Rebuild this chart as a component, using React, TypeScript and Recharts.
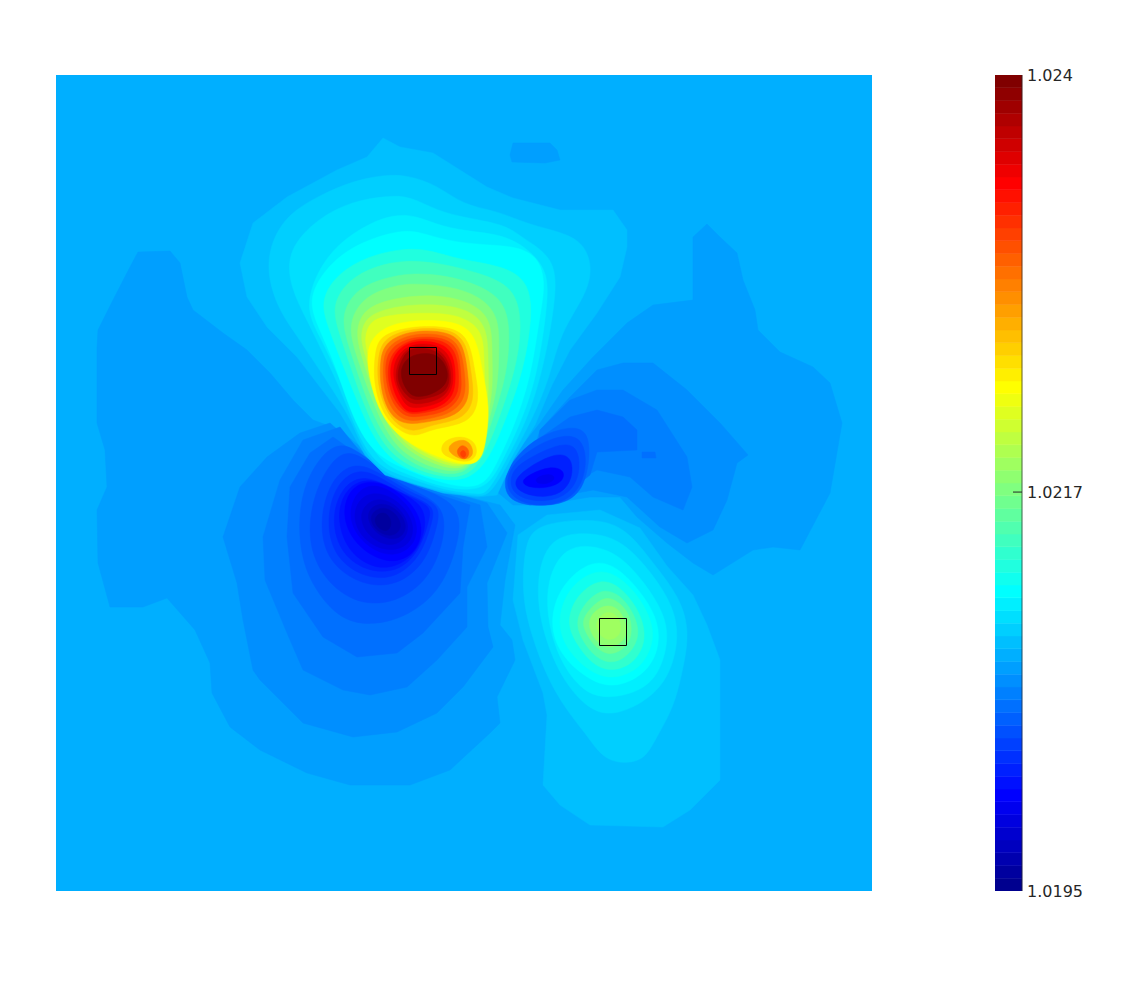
import React from "react";
import { BarChart, Bar, ScatterChart, Scatter, XAxis, YAxis } from "recharts";

type Pt = number[];
type Band = [number, Pt[]];

// jet colormap of the colorbar, bottom to top
const jet = [
  "#00008F", "#00009F", "#0000AF", "#0000BF", "#0000CF", "#0000DF", "#0000EF", "#0000FF",
  "#0010FF", "#0020FF", "#0030FF", "#0040FF", "#0050FF", "#0060FF", "#0070FF", "#0080FF",
  "#008FFF", "#009FFF", "#00AFFF", "#00BFFF", "#00CFFF", "#00DFFF", "#00EFFF", "#00FFFF",
  "#10FFEF", "#20FFDF", "#30FFCF", "#40FFBF", "#50FFAF", "#60FF9F", "#70FF8F", "#80FF80",
  "#8FFF70", "#9FFF60", "#AFFF50", "#BFFF40", "#CFFF30", "#DFFF20", "#EFFF10", "#FFFF00",
  "#FFEF00", "#FFDF00", "#FFCF00", "#FFBF00", "#FFAF00", "#FF9F00", "#FF8F00", "#FF8000",
  "#FF7000", "#FF6000", "#FF5000", "#FF4000", "#FF3000", "#FF2000", "#FF1000", "#FF0000",
  "#EF0000", "#DF0000", "#CF0000", "#BF0000", "#AF0000", "#9F0000", "#8F0000", "#800000",
];

const colorTicks = [1.0195, 1.0217, 1.024];
const colorMin = 1.0195;
const colorMax = 1.024;

// contour outlines, in grid units of the field
const field: Pt[] = [[56, 75], [872, 75], [872, 891], [56, 891]];

const lowLeft18: Pt[] = [[138, 252], [170, 251], [180, 263], [187, 297], [193, 310], [223, 333], [247, 350], [270, 373], [293, 400], [313, 420], [340, 430], [400, 480], [500, 505], [515, 525], [505, 580], [500, 625], [512, 640], [515, 660], [497, 697], [500, 723], [490, 733], [450, 770], [410, 785], [350, 785], [307, 773], [260, 750], [230, 727], [212, 693], [210, 663], [195, 630], [167, 598], [143, 607], [110, 607], [98, 563], [97, 510], [107, 487], [105, 450], [97, 423], [97, 347], [98, 330], [113, 300], [130, 267]];
const lowRight18: Pt[] = [[693, 237], [707, 224], [720, 237], [737, 253], [743, 280], [755, 310], [758, 330], [780, 352], [813, 367], [830, 383], [842, 423], [830, 493], [800, 550], [773, 547], [753, 550], [713, 575], [693, 563], [667, 543], [637, 517], [620, 497], [590, 497], [540, 505], [513, 505], [495, 490], [513, 457], [540, 423], [563, 390], [593, 357], [627, 323], [653, 305], [693, 300]];
const lowTop18: Pt[] = [[513, 143], [550, 143], [557, 150], [560, 160], [545, 163], [512, 162], [510, 155]];

const lowLeft17: Pt[] = [[223, 537], [240, 487], [267, 457], [300, 433], [330, 423], [360, 450], [410, 480], [487, 503], [507, 533], [487, 583], [488, 627], [493, 647], [463, 687], [437, 713], [397, 732], [353, 737], [303, 723], [260, 680], [253, 670], [243, 620], [237, 583]];
const lowLeft16: Pt[] = [[263, 537], [280, 480], [303, 440], [340, 427], [365, 458], [410, 483], [480, 505], [487, 547], [467, 587], [467, 627], [437, 660], [407, 687], [370, 695], [343, 690], [303, 670], [287, 633], [265, 580]];
const lowLeft15: Pt[] = [[287, 537], [290, 487], [310, 453], [333, 437], [370, 463], [410, 485], [470, 505], [463, 547], [460, 593], [423, 633], [397, 653], [357, 657], [323, 637], [293, 593]];
const lowLeft14: Pt[] = [[298, 537], [301, 493], [318, 458], [343, 438], [375, 466], [410, 486], [465, 503], [456, 553], [439, 592], [408, 616], [373, 626], [338, 620], [307, 579]];
const lowLeft13: Pt[] = [[307, 537], [314, 493], [331, 461], [350, 448], [380, 470], [410, 490], [447, 505], [443, 547], [426, 583], [391, 605], [352, 603], [320, 575]];
const lowLeft12: Pt[] = [[319, 522], [330, 480], [355, 460], [385, 476], [410, 493], [442, 504], [436, 530], [426, 562], [398, 586], [362, 586], [327, 562]];
const lowLeft11: Pt[] = [[326, 520], [336, 483], [360, 467], [385, 480], [410, 496], [436, 506], [431, 525], [422, 554], [398, 578], [366, 579], [334, 558]];
const lowLeft10: Pt[] = [[331, 520], [341, 487], [365, 473], [400, 493], [432, 505], [429, 520], [421, 548], [401, 571], [370, 573], [341, 555]];
const lowLeft9: Pt[] = [[336, 516], [346, 487], [370, 477], [395, 490], [422, 503], [427, 525], [417, 553], [395, 568], [372, 568], [347, 551]];
const lowLeft8: Pt[] = [[341, 514], [351, 485], [377, 479], [410, 499], [425, 527], [415, 556], [387, 565], [354, 545]];
const lowLeft7: Pt[] = [[347, 514], [358, 488], [380, 483], [408, 503], [420, 528], [411, 550], [387, 558], [359, 541]];
const lowLeft6: Pt[] = [[351, 513], [365, 491], [393, 495], [415, 520], [412, 545], [387, 553], [361, 539]];
const lowLeft5: Pt[] = [[358, 513], [373, 497], [395, 502], [411, 524], [404, 542], [387, 547], [366, 535]];
const lowLeft4: Pt[] = [[364, 513], [380, 501], [398, 509], [409, 527], [398, 542], [375, 535]];
const lowLeft3: Pt[] = [[368, 515], [383, 505], [397, 514], [403, 528], [392, 538], [375, 531]];
const lowLeft2: Pt[] = [[373, 517], [385, 510], [393, 522], [388, 533], [377, 528]];

const lowRight17: Pt[] = [[623, 363], [653, 363], [687, 390], [720, 423], [748, 455], [737, 463], [727, 500], [713, 530], [687, 543], [660, 527], [627, 497], [593, 490], [540, 500], [520, 495], [540, 430], [570, 397], [597, 370]];
const lowRight16: Pt[] = [[597, 390], [623, 390], [657, 410], [687, 457], [692, 487], [683, 510], [653, 497], [630, 477], [597, 470], [560, 490], [530, 495], [540, 430], [570, 400]];
const lowRight15: Pt[] = [[570, 417], [597, 410], [623, 417], [637, 430], [637, 450], [597, 452], [590, 475], [565, 495], [530, 505], [510, 495], [530, 445]];
const lowSpot15: Pt[] = [[642, 452], [655, 452], [656, 458], [642, 458]];
const lowRight14: Pt[] = [[533, 440], [560, 428], [592, 426], [588, 480], [572, 502], [540, 507], [508, 502], [503, 480], [513, 460]];
const lowRight13: Pt[] = [[525, 453], [550, 438], [580, 433], [588, 460], [580, 492], [555, 506], [525, 505], [506, 492], [508, 470]];
const lowRight12: Pt[] = [[525, 460], [555, 445], [577, 443], [581, 470], [572, 492], [550, 502], [525, 500], [510, 490], [511, 472]];
const lowRight10: Pt[] = [[530, 466], [555, 453], [572, 456], [573, 478], [562, 494], [540, 498], [518, 492], [513, 480]];
const lowRight8: Pt[] = [[530, 474], [550, 466], [565, 470], [563, 482], [548, 488], [530, 488], [520, 482]];
const lowRight7: Pt[] = [[535, 477], [552, 473], [556, 479], [548, 484], [536, 484]];

const upper20: Pt[] = [[383, 138], [400, 147], [433, 153], [460, 170], [487, 187], [513, 198], [560, 210], [613, 210], [627, 230], [627, 247], [620, 277], [597, 313], [570, 350], [552, 385], [535, 425], [513, 460], [497, 495], [477, 497], [443, 493], [410, 483], [385, 475], [365, 455], [340, 413], [320, 387], [297, 357], [267, 327], [247, 297], [240, 263], [253, 223], [287, 197], [337, 170], [367, 157]];
const upper21: Pt[] = [[383, 175], [407, 175], [437, 185], [463, 205], [497, 211], [520, 221], [543, 228], [582, 238], [593, 267], [586, 295], [560, 333], [550, 377], [532, 420], [510, 460], [490, 496], [477, 496], [443, 492], [410, 482], [383, 473], [362, 449], [353, 423], [333, 390], [313, 360], [293, 330], [277, 307], [264, 263], [281, 218], [320, 195], [353, 181]];
const upper22: Pt[] = [[387, 196], [410, 196], [437, 211], [467, 218], [507, 225], [522, 238], [556, 258], [556, 300], [542, 375], [525, 425], [505, 462], [487, 494], [477, 494], [443, 490], [410, 478], [380, 468], [360, 441], [340, 387], [323, 353], [307, 320], [290, 287], [287, 250], [318, 218], [353, 201]];
const upper23: Pt[] = [[393, 215], [415, 215], [442, 227], [475, 232], [512, 236], [548, 266], [548, 302], [537, 377], [520, 425], [500, 465], [485, 492], [443, 488], [410, 475], [378, 463], [356, 415], [338, 375], [322, 340], [305, 310], [316, 273], [338, 243], [370, 223]];
const upper24: Pt[] = [[400, 230], [420, 232], [447, 241], [483, 245], [515, 246], [538, 256], [546, 283], [539, 320], [531, 377], [514, 427], [496, 465], [482, 490], [443, 484], [410, 471], [375, 456], [353, 420], [335, 363], [318, 327], [307, 297], [331, 261], [363, 241]];
const upper26: Pt[] = [[405, 248], [430, 250], [460, 260], [505, 266], [530, 283], [532, 320], [523, 372], [507, 416], [491, 456], [471, 480], [440, 481], [398, 467], [374, 440], [358, 403], [342, 363], [328, 327], [320, 300], [338, 273], [368, 256]];
const upper28: Pt[] = [[405, 260], [440, 263], [480, 273], [517, 288], [522, 330], [515, 371], [501, 413], [486, 453], [469, 477], [440, 478], [400, 463], [378, 437], [362, 400], [350, 365], [338, 330], [332, 305], [348, 280], [375, 266]];
const upper30: Pt[] = [[410, 273], [445, 275], [480, 285], [507, 303], [510, 340], [506, 376], [495, 413], [482, 449], [467, 474], [440, 475], [402, 459], [381, 432], [366, 398], [354, 362], [344, 332], [343, 310], [358, 288], [385, 278]];
const upper32: Pt[] = [[410, 283], [450, 286], [480, 296], [499, 316], [499, 350], [498, 386], [489, 421], [479, 451], [466, 472], [440, 471], [403, 455], [384, 428], [370, 395], [358, 360], [350, 335], [352, 315], [366, 296], [390, 287]];
const upper34: Pt[] = [[412, 295], [450, 296], [478, 306], [492, 323], [492, 358], [493, 391], [486, 426], [477, 453], [464, 470], [440, 467], [405, 450], [387, 425], [373, 392], [362, 358], [356, 335], [360, 316], [375, 303]];
const upper36: Pt[] = [[412, 304], [450, 305], [475, 313], [488, 331], [488, 365], [489, 396], [483, 431], [476, 456], [463, 468], [440, 464], [405, 446], [388, 420], [376, 392], [366, 358], [360, 338], [364, 320], [380, 310]];
const upper38: Pt[] = [[410, 313], [452, 313], [474, 323], [484, 338], [484, 370], [486, 400], [481, 436], [475, 459], [463, 466], [440, 461], [404, 442], [387, 417], [377, 390], [368, 355], [364, 338], [370, 321], [385, 316]];
const upper40: Pt[] = [[405, 320], [455, 320], [476, 334], [482, 370], [490, 407], [486, 443], [479, 469], [440, 459], [400, 439], [381, 415], [371, 387], [365, 350], [378, 330]];
const hot42: Pt[] = [[375, 350], [381, 335], [410, 326], [453, 326], [470, 340], [475, 373], [480, 400], [470, 424], [433, 428], [415, 438], [398, 430], [383, 415], [373, 383]];
const hot44: Pt[] = [[378, 355], [384, 338], [410, 328], [451, 328], [467, 343], [471, 373], [475, 400], [463, 420], [433, 424], [413, 433], [397, 425], [385, 410], [377, 383]];
const hot48: Pt[] = [[380, 360], [385, 342], [410, 330], [450, 331], [464, 345], [468, 375], [470, 400], [456, 416], [433, 421], [410, 425], [395, 420], [385, 405], [380, 383]];
const hot50: Pt[] = [[383, 360], [388, 345], [411, 333], [447, 334], [461, 347], [465, 375], [466, 398], [452, 413], [433, 418], [411, 422], [398, 417], [388, 403], [383, 383]];
const hot52: Pt[] = [[385, 362], [391, 347], [412, 336], [445, 337], [459, 349], [461, 376], [462, 396], [448, 411], [430, 415], [411, 418], [400, 413], [391, 400], [386, 382]];
const hot54: Pt[] = [[388, 364], [394, 350], [412, 338], [443, 339], [457, 352], [459, 378], [458, 396], [445, 408], [428, 412], [411, 415], [402, 410], [393, 398], [388, 381]];
const hot56: Pt[] = [[390, 366], [396, 351], [412, 340], [441, 342], [454, 354], [456, 380], [453, 396], [442, 406], [425, 411], [410, 413], [403, 408], [395, 395], [391, 381]];
const hot58: Pt[] = [[393, 368], [398, 354], [412, 343], [439, 344], [452, 358], [454, 382], [449, 396], [438, 404], [420, 408], [408, 408], [401, 398], [394, 382]];
const hot60: Pt[] = [[395, 372], [401, 355], [412, 345], [438, 347], [450, 362], [452, 384], [445, 396], [432, 402], [415, 405], [405, 400], [397, 386]];
const hot62: Pt[] = [[397, 372], [403, 356], [412, 347], [437, 349], [449, 365], [450, 385], [442, 394], [428, 398], [414, 401], [406, 395], [399, 385]];
const hot64: Pt[] = [[399, 374], [406, 355], [436, 351], [448, 368], [448, 384], [432, 395], [414, 398], [406, 390]];
const side42: Pt[] = [[440, 453], [443, 440], [463, 435], [477, 443], [477, 458], [465, 463], [450, 458]];
const side46: Pt[] = [[447, 452], [450, 443], [465, 438], [473, 447], [473, 457], [463, 461]];
const side50: Pt[] = [[455, 452], [462, 443], [470, 450], [468, 458], [462, 460]];
const side52: Pt[] = [[459, 453], [464, 449], [467, 455], [463, 459]];

const peak20: Pt[] = [[547, 515], [600, 510], [640, 528], [667, 566], [693, 595], [707, 625], [720, 660], [720, 780], [690, 810], [663, 827], [590, 825], [560, 805], [543, 785], [547, 715], [543, 693], [523, 640], [513, 600], [518, 535]];
const peak21: Pt[] = [[540, 523], [597, 518], [627, 529], [653, 563], [680, 597], [690, 633], [682, 673], [674, 707], [655, 740], [645, 759], [625, 764], [603, 759], [587, 735], [570, 715], [547, 679], [528, 625], [522, 590], [525, 540]];
const peak22: Pt[] = [[548, 535], [593, 532], [623, 541], [652, 573], [674, 607], [679, 640], [669, 677], [649, 699], [620, 714], [593, 714], [563, 682], [543, 635], [535, 585]];
const peak23: Pt[] = [[565, 547], [593, 545], [620, 555], [645, 583], [664, 613], [669, 640], [659, 675], [639, 692], [607, 699], [583, 692], [560, 662], [547, 620], [547, 578]];
const peak24: Pt[] = [[593, 558], [620, 568], [645, 597], [659, 623], [659, 650], [645, 675], [613, 689], [587, 679], [560, 655], [549, 623], [560, 585]];
const peak25: Pt[] = [[597, 568], [620, 576], [642, 600], [654, 627], [652, 648], [639, 670], [612, 680], [590, 672], [568, 652], [556, 623], [568, 587]];
const peak27: Pt[] = [[600, 578], [620, 586], [637, 607], [645, 628], [644, 647], [632, 665], [610, 672], [592, 664], [577, 645], [566, 623], [576, 595]];
const peak29: Pt[] = [[603, 588], [620, 595], [632, 610], [639, 628], [637, 643], [625, 659], [608, 664], [593, 655], [582, 640], [575, 622], [585, 602]];
const peak31: Pt[] = [[605, 596], [618, 601], [629, 613], [632, 628], [630, 642], [620, 652], [607, 655], [595, 647], [587, 635], [581, 622], [590, 608]];
const peak33: Pt[] = [[607, 604], [620, 609], [628, 627], [625, 641], [608, 650], [594, 640], [587, 623], [594, 611]];
const peak34: Pt[] = [[606, 610], [618, 615], [622, 628], [618, 638], [606, 641], [597, 632], [595, 622]];

// painting order, colormap position (1-64) then outline
const angularBands: Band[] = [
  [19, field], [18, lowLeft18], [18, lowRight18], [18, lowTop18],
  [17, lowLeft17], [17, lowRight17], [16, lowLeft16], [16, lowRight16],
  [15, lowLeft15], [15, lowRight15], [15, lowSpot15],
];
const roundBands: Band[] = [
  [14, lowLeft14], [13, lowLeft13], [12, lowLeft12], [11, lowLeft11], [10, lowLeft10], [9, lowLeft9],
  [8, lowLeft8], [7, lowLeft7], [6, lowLeft6], [5, lowLeft5], [4, lowLeft4], [3, lowLeft3], [2, lowLeft2],
  [14, lowRight14], [13, lowRight13], [12, lowRight12], [10, lowRight10], [8, lowRight8], [7, lowRight7],
];
const warmBands: Band[] = [[20, upper20], [20, peak20]];
const hotBands: Band[] = [
  [21, upper21], [22, upper22], [23, upper23], [24, upper24],
  [26, upper26], [28, upper28], [30, upper30], [32, upper32], [34, upper34], [36, upper36], [38, upper38], [40, upper40],
  [42, hot42], [44, hot44], [48, hot48], [50, hot50], [52, hot52], [54, hot54], [56, hot56], [58, hot58], [60, hot60], [62, hot62], [64, hot64],
  [42, side42], [46, side46], [50, side50], [52, side52],
  [21, peak21], [22, peak22], [23, peak23], [24, peak24], [25, peak25], [27, peak27], [29, peak29], [31, peak31], [33, peak33], [34, peak34],
];

const markerA: Pt[] = [[409.5, 347.5], [436.5, 347.5], [436.5, 374.5], [409.5, 374.5]];
const markerB: Pt[] = [[599.5, 618.5], [626.5, 618.5], [626.5, 645.5], [599.5, 645.5]];

const noDot = () => <g />;

function bandSeries(bands: Band[], joint: "linearClosed" | "basisClosed", prefix: string) {
  return bands.map(([level, pts], i) => (
    <Scatter
      key={prefix + i}
      data={pts.map(([x, y]) => ({ x, y }))}
      line={{ fill: jet[level - 1], stroke: jet[level - 1], strokeWidth: 0.5 }}
      lineType="joint"
      lineJointType={joint}
      shape={noDot}
      legendType="none"
      isAnimationActive={false}
    />
  ));
}

function ColorTick({ x, y, payload }: any) {
  const inner = payload.value > colorMin && payload.value < colorMax;
  return (
    <g>
      {inner && <line x1={x - 9} x2={x} y1={y} y2={y} stroke="#262626" strokeWidth={1} />}
      <text x={x + 5} y={y} dy="0.36em" fontSize={16} fill="#262626" fontFamily="DejaVu Sans">
        {payload.value}
      </text>
    </g>
  );
}

// one row for the colorbar stack: base first, then one slice per colormap entry
const sliceHeight = (colorMax - colorMin) / jet.length;
const colorRow: Record<string, number | string> = { name: "c", base: colorMin };
jet.forEach((_, i) => {
  colorRow["c" + i] = sliceHeight;
});

export default function App() {
  return (
    <div style={{ position: "absolute", left: 0, top: 0, width: 1143, height: 1001, background: "#fff" }}>
      <div style={{ position: "absolute", left: 56, top: 75 }}>
        <ScatterChart width={816} height={816} margin={{ top: 0, right: 0, bottom: 0, left: 0 }}>
          <XAxis type="number" dataKey="x" domain={[56, 872]} hide allowDataOverflow />
          <YAxis type="number" dataKey="y" domain={[75, 891]} reversed hide allowDataOverflow />
          {bandSeries(angularBands, "linearClosed", "a")}
          {bandSeries(roundBands, "basisClosed", "r")}
          {bandSeries(warmBands, "linearClosed", "w")}
          {bandSeries(hotBands, "basisClosed", "h")}
          {[markerA, markerB].map((pts, i) => (
            <Scatter
              key={"m" + i}
              data={pts.map(([x, y]) => ({ x, y }))}
              line={{ fill: "none", stroke: "#000", strokeWidth: 1 }}
              lineType="joint"
              lineJointType="linearClosed"
              shape={noDot}
              legendType="none"
              isAnimationActive={false}
            />
          ))}
        </ScatterChart>
      </div>
      <div style={{ position: "absolute", left: 995, top: 65 }}>
        <BarChart
          width={100}
          height={836}
          data={[colorRow]}
          barCategoryGap={0}
          margin={{ top: 10, right: 0, bottom: 10, left: 0 }}
        >
          <XAxis dataKey="name" hide />
          <YAxis
            orientation="right"
            width={73}
            type="number"
            domain={[colorMin, colorMax]}
            ticks={colorTicks}
            interval={0}
            allowDataOverflow
            axisLine={{ stroke: "#262626", strokeOpacity: 0.7 }}
            tickLine={false}
            tickSize={0}
            tickMargin={0}
            tick={<ColorTick />}
          />
          <YAxis
            yAxisId="edge"
            orientation="left"
            width={0}
            type="number"
            domain={[colorMin, colorMax]}
            tick={false}
            tickLine={false}
            axisLine={{ stroke: "#262626", strokeOpacity: 0.7 }}
          />
          <Bar dataKey="base" stackId="cb" fill="none" isAnimationActive={false} />
          {jet.map((color, i) => (
            <Bar key={color} dataKey={"c" + i} stackId="cb" fill={color} stroke={color} strokeWidth={0.5} isAnimationActive={false} />
          ))}
        </BarChart>
      </div>
    </div>
  );
}
